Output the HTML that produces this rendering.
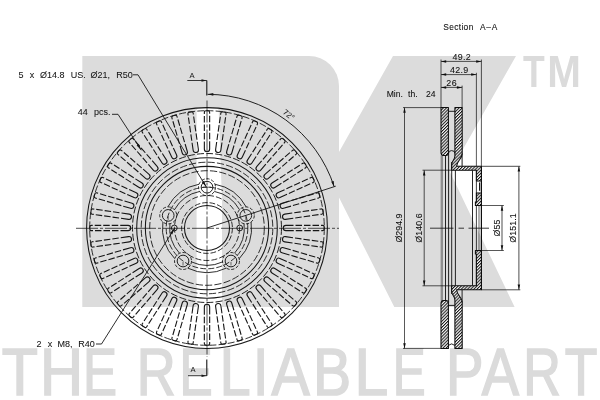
<!DOCTYPE html>
<html><head><meta charset="utf-8"><title>Brake disc drawing</title>
<style>
html,body{margin:0;padding:0;background:#fff;}
body{width:600px;height:400px;overflow:hidden;position:relative;font-family:"Liberation Sans",sans-serif;}
svg{position:absolute;left:0;top:0;display:block}
text{font-family:"Liberation Sans",sans-serif}
</style></head><body>
<svg width="600" height="400" viewBox="0 0 600 400">
<rect width="600" height="400" fill="#fff"/>
<defs><filter id="soft" x="0" y="0" width="600" height="400" filterUnits="userSpaceOnUse"><feGaussianBlur stdDeviation="0.35"/></filter></defs>
<g filter="url(#soft)">
<g id="wm">
<path d="M82.3 56 H309 A30 30 0 0 1 339 86 V306.9 H82.3 Z" fill="#dcdcdc"/>
<path d="M196.6 307.5 V110.5 Q196.6 108.3 199 108.3 H216.2 Q218.6 108.3 218.7 110.5 L222 200 V307.5 Z" fill="#fff"/>
<path d="M393 56 H516 L450 172 L514.6 307 H394.3 L339 197.5 V152 Z" fill="#dcdcdc"/>
<rect x="338" y="152" width="2" height="45.5" fill="#dcdcdc"/>
<text transform="translate(523 87.4) scale(0.786 1)" font-family="Liberation Sans, sans-serif" font-weight="bold" font-size="45.2" fill="#dbdbdb">T</text>
<text transform="translate(547.21 87.4) scale(0.894 1)" font-family="Liberation Sans, sans-serif" font-weight="bold" font-size="45.2" fill="#dbdbdb">M</text>
<text transform="translate(1.8 394.9) scale(0.893 1)" font-family="Liberation Sans, sans-serif" font-size="66.3" fill="#dbdbdb" stroke="#dbdbdb" stroke-width="1.6">T</text>
<text transform="translate(39.9 394.9) scale(0.9 1)" font-family="Liberation Sans, sans-serif" font-size="66.3" fill="#dbdbdb" stroke="#dbdbdb" stroke-width="1.6">H</text>
<text transform="translate(82.92 394.9) scale(0.769 1)" font-family="Liberation Sans, sans-serif" font-size="66.3" fill="#dbdbdb" stroke="#dbdbdb" stroke-width="1.6">E</text>
<text transform="translate(136.74 394.9) scale(0.815 1)" font-family="Liberation Sans, sans-serif" font-size="66.3" fill="#dbdbdb" stroke="#dbdbdb" stroke-width="1.6">R</text>
<text transform="translate(179.5 394.9) scale(0.75 1)" font-family="Liberation Sans, sans-serif" font-size="66.3" fill="#dbdbdb" stroke="#dbdbdb" stroke-width="1.6">E</text>
<text transform="translate(219.66 394.9) scale(0.836 1)" font-family="Liberation Sans, sans-serif" font-size="66.3" fill="#dbdbdb" stroke="#dbdbdb" stroke-width="1.6">L</text>
<text transform="translate(253.08 394.9) scale(0.833 1)" font-family="Liberation Sans, sans-serif" font-size="66.3" fill="#dbdbdb" stroke="#dbdbdb" stroke-width="1.6">I</text>
<text transform="translate(271.61 394.9) scale(0.864 1)" font-family="Liberation Sans, sans-serif" font-size="66.3" fill="#dbdbdb" stroke="#dbdbdb" stroke-width="1.6">A</text>
<text transform="translate(313.05 394.9) scale(0.862 1)" font-family="Liberation Sans, sans-serif" font-size="66.3" fill="#dbdbdb" stroke="#dbdbdb" stroke-width="1.6">B</text>
<text transform="translate(354.59 394.9) scale(0.914 1)" font-family="Liberation Sans, sans-serif" font-size="66.3" fill="#dbdbdb" stroke="#dbdbdb" stroke-width="1.6">L</text>
<text transform="translate(392.78 394.9) scale(0.744 1)" font-family="Liberation Sans, sans-serif" font-size="66.3" fill="#dbdbdb" stroke="#dbdbdb" stroke-width="1.6">E</text>
<text transform="translate(446.11 394.9) scale(0.849 1)" font-family="Liberation Sans, sans-serif" font-size="66.3" fill="#dbdbdb" stroke="#dbdbdb" stroke-width="1.6">P</text>
<text transform="translate(481.84 394.9) scale(0.842 1)" font-family="Liberation Sans, sans-serif" font-size="66.3" fill="#dbdbdb" stroke="#dbdbdb" stroke-width="1.6">A</text>
<text transform="translate(523.36 394.9) scale(0.786 1)" font-family="Liberation Sans, sans-serif" font-size="66.3" fill="#dbdbdb" stroke="#dbdbdb" stroke-width="1.6">R</text>
<text transform="translate(564.75 394.9) scale(0.806 1)" font-family="Liberation Sans, sans-serif" font-size="66.3" fill="#dbdbdb" stroke="#dbdbdb" stroke-width="1.6">T</text>
</g>
<g id="front" fill="none" stroke="#161616" stroke-linecap="butt">
<g transform="translate(207.0 228.0)">
<circle cx="0" cy="0" r="120.4" stroke-width="1.05"/>
<circle cx="0" cy="0" r="117.3" stroke-width="0.88" stroke-dasharray="7 2.2"/>
<circle cx="0" cy="0" r="74.5" stroke-width="0.95" stroke-dasharray="7 2.2"/>
<circle cx="0" cy="0" r="70.3" stroke-width="1.05"/>
<circle cx="0" cy="0" r="65.8" stroke-width="0.88" stroke-dasharray="7.2 2.2"/>
<circle cx="0" cy="0" r="61.65" stroke-width="1.05"/>
<circle cx="0" cy="0" r="57.3" stroke-width="0.88" stroke-dasharray="7.2 2.2"/>
<circle cx="0" cy="0" r="40.8" stroke-width="0.88" stroke-dasharray="6 2.1"/>
<circle cx="0" cy="0" r="32.5" stroke-width="0.88" stroke-dasharray="6 2.1"/>
<circle cx="0" cy="0" r="25.4" stroke-width="0.88" stroke-dasharray="5.6 2"/>
<circle cx="0" cy="0" r="22.5" stroke-width="1.05"/>
<path d="M7.37 -36.56 A37.3 37.3 0 0 1 32.5 -18.31" stroke-width="0.9"/>
<path d="M37.05 -4.29 A37.3 37.3 0 0 1 27.46 25.25" stroke-width="0.9"/>
<path d="M15.53 33.91 A37.3 37.3 0 0 1 -15.53 33.91" stroke-width="0.9"/>
<path d="M-27.46 25.25 A37.3 37.3 0 0 1 -37.05 -4.29" stroke-width="0.9"/>
<path d="M-32.5 -18.31 A37.3 37.3 0 0 1 -7.37 -36.56" stroke-width="0.9"/>
<path d="M7.96 -43.78 A44.5 44.5 0 0 1 39.18 -21.1" stroke-width="0.9"/>
<path d="M44.1 -5.96 A44.5 44.5 0 0 1 32.17 30.74" stroke-width="0.9"/>
<path d="M19.3 40.1 A44.5 44.5 0 0 1 -19.3 40.1" stroke-width="0.9"/>
<path d="M-32.17 30.74 A44.5 44.5 0 0 1 -44.1 -5.96" stroke-width="0.9"/>
<path d="M-39.18 -21.1 A44.5 44.5 0 0 1 -7.96 -43.78" stroke-width="0.9"/>
<circle cx="0" cy="-40.8" r="5.85" stroke-width="0.95"/>
<circle cx="0" cy="-40.8" r="8.5" stroke-width="0.88" stroke-dasharray="3.2 1.7"/>
<path d="M-4.2 -40.8 H4.2" stroke-width="0.7"/>
<circle cx="38.8" cy="-12.61" r="5.85" stroke-width="0.95"/>
<circle cx="38.8" cy="-12.61" r="8.5" stroke-width="0.88" stroke-dasharray="3.2 1.7"/>
<path d="M38.8 -11.61 V-8.11" stroke-width="0.6"/>
<circle cx="23.98" cy="33.01" r="5.85" stroke-width="0.95"/>
<circle cx="23.98" cy="33.01" r="8.5" stroke-width="0.88" stroke-dasharray="3.2 1.7"/>
<path d="M23.98 34.01 V37.51" stroke-width="0.6"/>
<circle cx="-23.98" cy="33.01" r="5.85" stroke-width="0.95"/>
<circle cx="-23.98" cy="33.01" r="8.5" stroke-width="0.88" stroke-dasharray="3.2 1.7"/>
<path d="M-23.98 34.01 V37.51" stroke-width="0.6"/>
<circle cx="-38.8" cy="-12.61" r="5.85" stroke-width="0.95"/>
<circle cx="-38.8" cy="-12.61" r="8.5" stroke-width="0.88" stroke-dasharray="3.2 1.7"/>
<path d="M-38.8 -11.61 V-8.11" stroke-width="0.6"/>
<circle cx="32.7" cy="-0" r="2.9" stroke-width="0.95"/>
<circle cx="-32.7" cy="-0" r="2.9" stroke-width="0.95"/>
<path d="M0 -117.2 H-1.05 Q-2.65 -117.2 -2.65 -115.6 V-78.95 A2.65 2.65 0 0 0 2.65 -78.95 V-115.6 Q2.65 -117.2 1.05 -117.2 Z" transform="rotate(-0)" stroke-width="1.1" stroke-dasharray="4.9 2 6.5 2 6.5 2 6.5 2 23.5 2 6.5 2 6.5 2 6.5 2 4.9"/>
<path d="M0 -117.2 H-1.05 Q-2.65 -117.2 -2.65 -115.6 V-78.95 A2.65 2.65 0 0 0 2.65 -78.95 V-115.6 Q2.65 -117.2 1.05 -117.2 Z" transform="rotate(-8.18)" stroke-width="1.1" stroke-dasharray="4.9 2 6.5 2 6.5 2 6.5 2 23.5 2 6.5 2 6.5 2 6.5 2 4.9"/>
<path d="M0 -117.2 H-1.05 Q-2.65 -117.2 -2.65 -115.6 V-78.95 A2.65 2.65 0 0 0 2.65 -78.95 V-115.6 Q2.65 -117.2 1.05 -117.2 Z" transform="rotate(-16.36)" stroke-width="1.1" stroke-dasharray="4.9 2 6.5 2 6.5 2 6.5 2 23.5 2 6.5 2 6.5 2 6.5 2 4.9"/>
<path d="M0 -117.2 H-1.05 Q-2.65 -117.2 -2.65 -115.6 V-78.95 A2.65 2.65 0 0 0 2.65 -78.95 V-115.6 Q2.65 -117.2 1.05 -117.2 Z" transform="rotate(-24.55)" stroke-width="1.1" stroke-dasharray="4.9 2 6.5 2 6.5 2 6.5 2 23.5 2 6.5 2 6.5 2 6.5 2 4.9"/>
<path d="M0 -117.2 H-1.05 Q-2.65 -117.2 -2.65 -115.6 V-78.95 A2.65 2.65 0 0 0 2.65 -78.95 V-115.6 Q2.65 -117.2 1.05 -117.2 Z" transform="rotate(-32.73)" stroke-width="1.1" stroke-dasharray="4.9 2 6.5 2 6.5 2 6.5 2 23.5 2 6.5 2 6.5 2 6.5 2 4.9"/>
<path d="M0 -117.2 H-1.05 Q-2.65 -117.2 -2.65 -115.6 V-78.95 A2.65 2.65 0 0 0 2.65 -78.95 V-115.6 Q2.65 -117.2 1.05 -117.2 Z" transform="rotate(-40.91)" stroke-width="1.1" stroke-dasharray="4.9 2 6.5 2 6.5 2 6.5 2 23.5 2 6.5 2 6.5 2 6.5 2 4.9"/>
<path d="M0 -117.2 H-1.05 Q-2.65 -117.2 -2.65 -115.6 V-78.95 A2.65 2.65 0 0 0 2.65 -78.95 V-115.6 Q2.65 -117.2 1.05 -117.2 Z" transform="rotate(-49.09)" stroke-width="1.1" stroke-dasharray="4.9 2 6.5 2 6.5 2 6.5 2 23.5 2 6.5 2 6.5 2 6.5 2 4.9"/>
<path d="M0 -117.2 H-1.05 Q-2.65 -117.2 -2.65 -115.6 V-78.95 A2.65 2.65 0 0 0 2.65 -78.95 V-115.6 Q2.65 -117.2 1.05 -117.2 Z" transform="rotate(-57.27)" stroke-width="1.1" stroke-dasharray="4.9 2 6.5 2 6.5 2 6.5 2 23.5 2 6.5 2 6.5 2 6.5 2 4.9"/>
<path d="M0 -117.2 H-1.05 Q-2.65 -117.2 -2.65 -115.6 V-78.95 A2.65 2.65 0 0 0 2.65 -78.95 V-115.6 Q2.65 -117.2 1.05 -117.2 Z" transform="rotate(-65.45)" stroke-width="1.1" stroke-dasharray="4.9 2 6.5 2 6.5 2 6.5 2 23.5 2 6.5 2 6.5 2 6.5 2 4.9"/>
<path d="M0 -117.2 H-1.05 Q-2.65 -117.2 -2.65 -115.6 V-78.95 A2.65 2.65 0 0 0 2.65 -78.95 V-115.6 Q2.65 -117.2 1.05 -117.2 Z" transform="rotate(-73.64)" stroke-width="1.1" stroke-dasharray="4.9 2 6.5 2 6.5 2 6.5 2 23.5 2 6.5 2 6.5 2 6.5 2 4.9"/>
<path d="M0 -117.2 H-1.05 Q-2.65 -117.2 -2.65 -115.6 V-78.95 A2.65 2.65 0 0 0 2.65 -78.95 V-115.6 Q2.65 -117.2 1.05 -117.2 Z" transform="rotate(-81.82)" stroke-width="1.1" stroke-dasharray="4.9 2 6.5 2 6.5 2 6.5 2 23.5 2 6.5 2 6.5 2 6.5 2 4.9"/>
<path d="M0 -117.2 H-1.05 Q-2.65 -117.2 -2.65 -115.6 V-78.95 A2.65 2.65 0 0 0 2.65 -78.95 V-115.6 Q2.65 -117.2 1.05 -117.2 Z" transform="rotate(-90)" stroke-width="1.1" stroke-dasharray="4.9 2 6.5 2 6.5 2 6.5 2 23.5 2 6.5 2 6.5 2 6.5 2 4.9"/>
<path d="M0 -117.2 H-1.05 Q-2.65 -117.2 -2.65 -115.6 V-78.95 A2.65 2.65 0 0 0 2.65 -78.95 V-115.6 Q2.65 -117.2 1.05 -117.2 Z" transform="rotate(-98.18)" stroke-width="1.1" stroke-dasharray="4.9 2 6.5 2 6.5 2 6.5 2 23.5 2 6.5 2 6.5 2 6.5 2 4.9"/>
<path d="M0 -117.2 H-1.05 Q-2.65 -117.2 -2.65 -115.6 V-78.95 A2.65 2.65 0 0 0 2.65 -78.95 V-115.6 Q2.65 -117.2 1.05 -117.2 Z" transform="rotate(-106.36)" stroke-width="1.1" stroke-dasharray="4.9 2 6.5 2 6.5 2 6.5 2 23.5 2 6.5 2 6.5 2 6.5 2 4.9"/>
<path d="M0 -117.2 H-1.05 Q-2.65 -117.2 -2.65 -115.6 V-78.95 A2.65 2.65 0 0 0 2.65 -78.95 V-115.6 Q2.65 -117.2 1.05 -117.2 Z" transform="rotate(-114.55)" stroke-width="1.1" stroke-dasharray="4.9 2 6.5 2 6.5 2 6.5 2 23.5 2 6.5 2 6.5 2 6.5 2 4.9"/>
<path d="M0 -117.2 H-1.05 Q-2.65 -117.2 -2.65 -115.6 V-78.95 A2.65 2.65 0 0 0 2.65 -78.95 V-115.6 Q2.65 -117.2 1.05 -117.2 Z" transform="rotate(-122.73)" stroke-width="1.1" stroke-dasharray="4.9 2 6.5 2 6.5 2 6.5 2 23.5 2 6.5 2 6.5 2 6.5 2 4.9"/>
<path d="M0 -117.2 H-1.05 Q-2.65 -117.2 -2.65 -115.6 V-78.95 A2.65 2.65 0 0 0 2.65 -78.95 V-115.6 Q2.65 -117.2 1.05 -117.2 Z" transform="rotate(-130.91)" stroke-width="1.1" stroke-dasharray="4.9 2 6.5 2 6.5 2 6.5 2 23.5 2 6.5 2 6.5 2 6.5 2 4.9"/>
<path d="M0 -117.2 H-1.05 Q-2.65 -117.2 -2.65 -115.6 V-78.95 A2.65 2.65 0 0 0 2.65 -78.95 V-115.6 Q2.65 -117.2 1.05 -117.2 Z" transform="rotate(-139.09)" stroke-width="1.1" stroke-dasharray="4.9 2 6.5 2 6.5 2 6.5 2 23.5 2 6.5 2 6.5 2 6.5 2 4.9"/>
<path d="M0 -117.2 H-1.05 Q-2.65 -117.2 -2.65 -115.6 V-78.95 A2.65 2.65 0 0 0 2.65 -78.95 V-115.6 Q2.65 -117.2 1.05 -117.2 Z" transform="rotate(-147.27)" stroke-width="1.1" stroke-dasharray="4.9 2 6.5 2 6.5 2 6.5 2 23.5 2 6.5 2 6.5 2 6.5 2 4.9"/>
<path d="M0 -117.2 H-1.05 Q-2.65 -117.2 -2.65 -115.6 V-78.95 A2.65 2.65 0 0 0 2.65 -78.95 V-115.6 Q2.65 -117.2 1.05 -117.2 Z" transform="rotate(-155.45)" stroke-width="1.1" stroke-dasharray="4.9 2 6.5 2 6.5 2 6.5 2 23.5 2 6.5 2 6.5 2 6.5 2 4.9"/>
<path d="M0 -117.2 H-1.05 Q-2.65 -117.2 -2.65 -115.6 V-78.95 A2.65 2.65 0 0 0 2.65 -78.95 V-115.6 Q2.65 -117.2 1.05 -117.2 Z" transform="rotate(-163.64)" stroke-width="1.1" stroke-dasharray="4.9 2 6.5 2 6.5 2 6.5 2 23.5 2 6.5 2 6.5 2 6.5 2 4.9"/>
<path d="M0 -117.2 H-1.05 Q-2.65 -117.2 -2.65 -115.6 V-78.95 A2.65 2.65 0 0 0 2.65 -78.95 V-115.6 Q2.65 -117.2 1.05 -117.2 Z" transform="rotate(-171.82)" stroke-width="1.1" stroke-dasharray="4.9 2 6.5 2 6.5 2 6.5 2 23.5 2 6.5 2 6.5 2 6.5 2 4.9"/>
<path d="M0 -117.2 H-1.05 Q-2.65 -117.2 -2.65 -115.6 V-78.95 A2.65 2.65 0 0 0 2.65 -78.95 V-115.6 Q2.65 -117.2 1.05 -117.2 Z" transform="rotate(-180)" stroke-width="1.1" stroke-dasharray="4.9 2 6.5 2 6.5 2 6.5 2 23.5 2 6.5 2 6.5 2 6.5 2 4.9"/>
<path d="M0 -117.2 H-1.05 Q-2.65 -117.2 -2.65 -115.6 V-78.95 A2.65 2.65 0 0 0 2.65 -78.95 V-115.6 Q2.65 -117.2 1.05 -117.2 Z" transform="rotate(-188.18)" stroke-width="1.1" stroke-dasharray="4.9 2 6.5 2 6.5 2 6.5 2 23.5 2 6.5 2 6.5 2 6.5 2 4.9"/>
<path d="M0 -117.2 H-1.05 Q-2.65 -117.2 -2.65 -115.6 V-78.95 A2.65 2.65 0 0 0 2.65 -78.95 V-115.6 Q2.65 -117.2 1.05 -117.2 Z" transform="rotate(-196.36)" stroke-width="1.1" stroke-dasharray="4.9 2 6.5 2 6.5 2 6.5 2 23.5 2 6.5 2 6.5 2 6.5 2 4.9"/>
<path d="M0 -117.2 H-1.05 Q-2.65 -117.2 -2.65 -115.6 V-78.95 A2.65 2.65 0 0 0 2.65 -78.95 V-115.6 Q2.65 -117.2 1.05 -117.2 Z" transform="rotate(-204.55)" stroke-width="1.1" stroke-dasharray="4.9 2 6.5 2 6.5 2 6.5 2 23.5 2 6.5 2 6.5 2 6.5 2 4.9"/>
<path d="M0 -117.2 H-1.05 Q-2.65 -117.2 -2.65 -115.6 V-78.95 A2.65 2.65 0 0 0 2.65 -78.95 V-115.6 Q2.65 -117.2 1.05 -117.2 Z" transform="rotate(-212.73)" stroke-width="1.1" stroke-dasharray="4.9 2 6.5 2 6.5 2 6.5 2 23.5 2 6.5 2 6.5 2 6.5 2 4.9"/>
<path d="M0 -117.2 H-1.05 Q-2.65 -117.2 -2.65 -115.6 V-78.95 A2.65 2.65 0 0 0 2.65 -78.95 V-115.6 Q2.65 -117.2 1.05 -117.2 Z" transform="rotate(-220.91)" stroke-width="1.1" stroke-dasharray="4.9 2 6.5 2 6.5 2 6.5 2 23.5 2 6.5 2 6.5 2 6.5 2 4.9"/>
<path d="M0 -117.2 H-1.05 Q-2.65 -117.2 -2.65 -115.6 V-78.95 A2.65 2.65 0 0 0 2.65 -78.95 V-115.6 Q2.65 -117.2 1.05 -117.2 Z" transform="rotate(-229.09)" stroke-width="1.1" stroke-dasharray="4.9 2 6.5 2 6.5 2 6.5 2 23.5 2 6.5 2 6.5 2 6.5 2 4.9"/>
<path d="M0 -117.2 H-1.05 Q-2.65 -117.2 -2.65 -115.6 V-78.95 A2.65 2.65 0 0 0 2.65 -78.95 V-115.6 Q2.65 -117.2 1.05 -117.2 Z" transform="rotate(-237.27)" stroke-width="1.1" stroke-dasharray="4.9 2 6.5 2 6.5 2 6.5 2 23.5 2 6.5 2 6.5 2 6.5 2 4.9"/>
<path d="M0 -117.2 H-1.05 Q-2.65 -117.2 -2.65 -115.6 V-78.95 A2.65 2.65 0 0 0 2.65 -78.95 V-115.6 Q2.65 -117.2 1.05 -117.2 Z" transform="rotate(-245.45)" stroke-width="1.1" stroke-dasharray="4.9 2 6.5 2 6.5 2 6.5 2 23.5 2 6.5 2 6.5 2 6.5 2 4.9"/>
<path d="M0 -117.2 H-1.05 Q-2.65 -117.2 -2.65 -115.6 V-78.95 A2.65 2.65 0 0 0 2.65 -78.95 V-115.6 Q2.65 -117.2 1.05 -117.2 Z" transform="rotate(-253.64)" stroke-width="1.1" stroke-dasharray="4.9 2 6.5 2 6.5 2 6.5 2 23.5 2 6.5 2 6.5 2 6.5 2 4.9"/>
<path d="M0 -117.2 H-1.05 Q-2.65 -117.2 -2.65 -115.6 V-78.95 A2.65 2.65 0 0 0 2.65 -78.95 V-115.6 Q2.65 -117.2 1.05 -117.2 Z" transform="rotate(-261.82)" stroke-width="1.1" stroke-dasharray="4.9 2 6.5 2 6.5 2 6.5 2 23.5 2 6.5 2 6.5 2 6.5 2 4.9"/>
<path d="M0 -117.2 H-1.05 Q-2.65 -117.2 -2.65 -115.6 V-78.95 A2.65 2.65 0 0 0 2.65 -78.95 V-115.6 Q2.65 -117.2 1.05 -117.2 Z" transform="rotate(-270)" stroke-width="1.1" stroke-dasharray="4.9 2 6.5 2 6.5 2 6.5 2 23.5 2 6.5 2 6.5 2 6.5 2 4.9"/>
<path d="M0 -117.2 H-1.05 Q-2.65 -117.2 -2.65 -115.6 V-78.95 A2.65 2.65 0 0 0 2.65 -78.95 V-115.6 Q2.65 -117.2 1.05 -117.2 Z" transform="rotate(-278.18)" stroke-width="1.1" stroke-dasharray="4.9 2 6.5 2 6.5 2 6.5 2 23.5 2 6.5 2 6.5 2 6.5 2 4.9"/>
<path d="M0 -117.2 H-1.05 Q-2.65 -117.2 -2.65 -115.6 V-78.95 A2.65 2.65 0 0 0 2.65 -78.95 V-115.6 Q2.65 -117.2 1.05 -117.2 Z" transform="rotate(-286.36)" stroke-width="1.1" stroke-dasharray="4.9 2 6.5 2 6.5 2 6.5 2 23.5 2 6.5 2 6.5 2 6.5 2 4.9"/>
<path d="M0 -117.2 H-1.05 Q-2.65 -117.2 -2.65 -115.6 V-78.95 A2.65 2.65 0 0 0 2.65 -78.95 V-115.6 Q2.65 -117.2 1.05 -117.2 Z" transform="rotate(-294.55)" stroke-width="1.1" stroke-dasharray="4.9 2 6.5 2 6.5 2 6.5 2 23.5 2 6.5 2 6.5 2 6.5 2 4.9"/>
<path d="M0 -117.2 H-1.05 Q-2.65 -117.2 -2.65 -115.6 V-78.95 A2.65 2.65 0 0 0 2.65 -78.95 V-115.6 Q2.65 -117.2 1.05 -117.2 Z" transform="rotate(-302.73)" stroke-width="1.1" stroke-dasharray="4.9 2 6.5 2 6.5 2 6.5 2 23.5 2 6.5 2 6.5 2 6.5 2 4.9"/>
<path d="M0 -117.2 H-1.05 Q-2.65 -117.2 -2.65 -115.6 V-78.95 A2.65 2.65 0 0 0 2.65 -78.95 V-115.6 Q2.65 -117.2 1.05 -117.2 Z" transform="rotate(-310.91)" stroke-width="1.1" stroke-dasharray="4.9 2 6.5 2 6.5 2 6.5 2 23.5 2 6.5 2 6.5 2 6.5 2 4.9"/>
<path d="M0 -117.2 H-1.05 Q-2.65 -117.2 -2.65 -115.6 V-78.95 A2.65 2.65 0 0 0 2.65 -78.95 V-115.6 Q2.65 -117.2 1.05 -117.2 Z" transform="rotate(-319.09)" stroke-width="1.1" stroke-dasharray="4.9 2 6.5 2 6.5 2 6.5 2 23.5 2 6.5 2 6.5 2 6.5 2 4.9"/>
<path d="M0 -117.2 H-1.05 Q-2.65 -117.2 -2.65 -115.6 V-78.95 A2.65 2.65 0 0 0 2.65 -78.95 V-115.6 Q2.65 -117.2 1.05 -117.2 Z" transform="rotate(-327.27)" stroke-width="1.1" stroke-dasharray="4.9 2 6.5 2 6.5 2 6.5 2 23.5 2 6.5 2 6.5 2 6.5 2 4.9"/>
<path d="M0 -117.2 H-1.05 Q-2.65 -117.2 -2.65 -115.6 V-78.95 A2.65 2.65 0 0 0 2.65 -78.95 V-115.6 Q2.65 -117.2 1.05 -117.2 Z" transform="rotate(-335.45)" stroke-width="1.1" stroke-dasharray="4.9 2 6.5 2 6.5 2 6.5 2 23.5 2 6.5 2 6.5 2 6.5 2 4.9"/>
<path d="M0 -117.2 H-1.05 Q-2.65 -117.2 -2.65 -115.6 V-78.95 A2.65 2.65 0 0 0 2.65 -78.95 V-115.6 Q2.65 -117.2 1.05 -117.2 Z" transform="rotate(-343.64)" stroke-width="1.1" stroke-dasharray="4.9 2 6.5 2 6.5 2 6.5 2 23.5 2 6.5 2 6.5 2 6.5 2 4.9"/>
<path d="M0 -117.2 H-1.05 Q-2.65 -117.2 -2.65 -115.6 V-78.95 A2.65 2.65 0 0 0 2.65 -78.95 V-115.6 Q2.65 -117.2 1.05 -117.2 Z" transform="rotate(-351.82)" stroke-width="1.1" stroke-dasharray="4.9 2 6.5 2 6.5 2 6.5 2 23.5 2 6.5 2 6.5 2 6.5 2 4.9"/>
</g>
<path d="M76 228.3 H339" stroke-width="0.75" stroke-dasharray="22 2 3 2"/>
<path d="M207.0 100.5 V357" stroke-width="0.75" stroke-dasharray="22 2 3 2"/>
<path d="M206.8 80.5 V95.5" stroke-width="1.1"/>
<path d="M187.3 80.5 H206.8" stroke-width="0.85"/>
<path d="M206.5 80.5 l-5 -1.3 v2.6 z" fill="#161616" stroke="none"/>
<path d="M206.8 359.5 V376" stroke-width="1.1"/>
<path d="M188 375.7 H206.8" stroke-width="0.85"/>
<path d="M206.5 375.7 l-5 -1.3 v2.6 z" fill="#161616" stroke="none"/>
<path d="M207.5 94.3 A133.7 133.7 0 0 1 334.16 186.68" stroke-width="0.95"/>
<path d="M207.8 94.3 l5.5 -1.3 v2.7 z" fill="#161616" stroke="none"/>
<path d="M334.16 186.68 L331.17 181.87 L333.74 181.04 Z" fill="#161616" stroke="none"/>
<path d="M207.0 228.0 L335.76 186.18" stroke-width="0.9"/>
<path d="M133 74.8 H138 L206.3 187" stroke-width="0.9"/>
<path d="M112 114.3 H118 L141.3 150.2" stroke-width="0.9"/>
<path d="M96 344 H101.5 L174.6 228.3" stroke-width="0.9"/>
</g>
<path d="M206.3 187 L201.77 182.15 L204.07 180.75 Z" fill="#161616"/>
<path d="M141.3 150.2 L136.63 145.48 L138.89 144.01 Z" fill="#161616"/>
<path d="M174.6 228.3 L172.27 234.52 L169.99 233.07 Z" fill="#161616"/>
<text y="77.7" font-family="Liberation Sans, sans-serif" font-size="9.0" fill="#161616" stroke="#161616" stroke-width="0.07"><tspan x="18.6">5</tspan><tspan x="29.8">x</tspan><tspan x="39.9">Ø14.8</tspan><tspan x="70.7">US.</tspan><tspan x="90.5">Ø21,</tspan><tspan x="116.2">R50</tspan></text>
<text y="115.3" font-family="Liberation Sans, sans-serif" font-size="9.0" fill="#161616" stroke="#161616" stroke-width="0.07"><tspan x="77.7">44</tspan><tspan x="94">pcs.</tspan></text>
<text y="346.6" font-family="Liberation Sans, sans-serif" font-size="9.0" fill="#161616" stroke="#161616" stroke-width="0.07"><tspan x="36.6">2</tspan><tspan x="47.8">x</tspan><tspan x="57.4">M8,</tspan><tspan x="78.2">R40</tspan></text>
<text x="189.4" y="77.6" font-family="Liberation Sans, sans-serif" font-size="7.6" fill="#161616">A</text>
<text x="190.6" y="371.9" font-family="Liberation Sans, sans-serif" font-size="7.6" fill="#161616">A</text>
<text font-family="Liberation Sans, sans-serif" font-size="8" fill="#161616" transform="translate(282.3 113.3) rotate(37)">72°</text>
<defs><pattern id="h" width="2.2" height="2.2" patternUnits="userSpaceOnUse" patternTransform="rotate(45)"><rect width="2.2" height="2.2" fill="#fff" fill-opacity="0.9"/><line x1="0.5" y1="-1" x2="0.5" y2="4" stroke="#141414" stroke-width="1.05"/></pattern></defs>
<g id="section">
<path d="M441.8 155.3 L441.8 300.7" stroke="#8e8e8e" stroke-width="2.4" fill="none"/>
<path d="M445.5 155.3 L445.5 300.7" stroke="#0c0c0c" stroke-width="0.9" fill="none"/>
<path d="M448.6 153 L448.6 303" stroke="#0c0c0c" stroke-width="0.9" fill="none"/>
<path d="M451.7 162 L451.7 294" stroke="#0c0c0c" stroke-width="0.9" fill="none"/>
<path d="M455.4 170.2 L455.4 285.8" stroke="#0c0c0c" stroke-width="0.9" fill="none"/>
<path d="M472.5 170.2 L472.5 285.8" stroke="#0c0c0c" stroke-width="0.9" fill="none"/>
<path d="M476.4 170.2 L476.4 285.8" stroke="#0c0c0c" stroke-width="0.8" fill="none"/>
<path d="M479 205.5 L479 250.5" stroke="#0c0c0c" stroke-width="0.6" fill="none"/>
<path d="M481.4 166.3 L481.4 289.7" stroke="#0c0c0c" stroke-width="1.2" fill="none"/>
<path d="M441 107.5 H448.4 V152.6 Q448.4 155.5 446 155.5 H443.3 Q441 155.5 441 152.6 Z" fill="url(#h)" stroke="#0c0c0c" stroke-width="1.05" stroke-linejoin="round"/>
<path d="M454.9 107.5 H462.2 V154 C462.2 158.5 457 160.5 456.6 166.3 H481.4 V181 H476.4 V170.2 H451.7 V164.5 C451.7 161 454.9 160 454.9 156 Z" fill="url(#h)" stroke="#0c0c0c" stroke-width="1.05" stroke-linejoin="round"/>
<path d="M476.4 193 L481.4 193 L481.4 205.5 L475.4 205.5 L475.4 202 L476.4 202 Z" fill="url(#h)" stroke="#0c0c0c" stroke-width="1.05" stroke-linejoin="miter"/>
<path d="M448.3 111.3 L454.9 111.3" stroke="#0c0c0c" stroke-width="0.9" fill="none"/>
<path d="M448.5 153.5 Q448.5 150.6 451.6 150.6 Q454.9 150.6 454.9 153.5" stroke="#0c0c0c" stroke-width="0.9" fill="none"/>
<path d="M462.1 153.5 L462.1 166.3" stroke="#0c0c0c" stroke-width="0.9" fill="none"/>
<path d="M479.6 182.6 L479.6 190.8" stroke="#0c0c0c" stroke-width="1.1" fill="none"/>
<path d="M441 348.5 H448.4 V303.4 Q448.4 300.5 446 300.5 H443.3 Q441 300.5 441 303.4 Z" fill="url(#h)" stroke="#0c0c0c" stroke-width="1.05" stroke-linejoin="round"/>
<path d="M454.9 348.5 H462.2 V302 C462.2 297.5 457 295.5 456.6 289.7 H481.4 V250.5 H475.4 V254 H476.4 V285.8 H451.7 V291.5 C451.7 295 454.9 296 454.9 300 Z" fill="url(#h)" stroke="#0c0c0c" stroke-width="1.05" stroke-linejoin="round"/>
<path d="M448.3 345.4 Q451.6 342.4 454.9 345.4" stroke="#0c0c0c" stroke-width="0.9" fill="none"/>
<path d="M448.5 305.4 L454.9 305.4" stroke="#0c0c0c" stroke-width="0.9" fill="none"/>
<path d="M462.1 302.5 L462.1 289.7" stroke="#0c0c0c" stroke-width="0.9" fill="none"/>
<path d="M430 228.2 L453.5 228.2" stroke="#0c0c0c" stroke-width="0.8" fill="none"/>
<path d="M458.5 228.2 L464 228.2" stroke="#0c0c0c" stroke-width="0.8" fill="none"/>
<path d="M468.5 228.2 L489 228.2" stroke="#0c0c0c" stroke-width="0.8" fill="none"/>
<path d="M441 59.5 L441 107.5" stroke="#0c0c0c" stroke-width="0.7" fill="none"/>
<path d="M481.4 59.5 L481.4 166.3" stroke="#0c0c0c" stroke-width="0.7" fill="none"/>
<path d="M476.4 72.8 L476.4 166.3" stroke="#0c0c0c" stroke-width="0.7" fill="none"/>
<path d="M462.1 85.6 L462.1 107.5" stroke="#0c0c0c" stroke-width="0.7" fill="none"/>
<path d="M441 61.4 L481.4 61.4" stroke="#0c0c0c" stroke-width="0.7" fill="none"/>
<path d="M441 61.4 L446.2 60.15 L446.2 62.65 Z" fill="#0c0c0c"/>
<path d="M481.4 61.4 L476.2 62.65 L476.2 60.15 Z" fill="#0c0c0c"/>
<path d="M441 74.6 L476.4 74.6" stroke="#0c0c0c" stroke-width="0.7" fill="none"/>
<path d="M441 74.6 L446.2 73.35 L446.2 75.85 Z" fill="#0c0c0c"/>
<path d="M476.4 74.6 L471.2 75.85 L471.2 73.35 Z" fill="#0c0c0c"/>
<path d="M441 87.4 L462.1 87.4" stroke="#0c0c0c" stroke-width="0.7" fill="none"/>
<path d="M441 87.4 L446.2 86.15 L446.2 88.65 Z" fill="#0c0c0c"/>
<path d="M462.1 87.4 L456.9 88.65 L456.9 86.15 Z" fill="#0c0c0c"/>
<path d="M403 107.6 L441 107.6" stroke="#0c0c0c" stroke-width="0.7" fill="none"/>
<path d="M403 348.4 L441 348.4" stroke="#0c0c0c" stroke-width="0.7" fill="none"/>
<path d="M404.5 107.6 L404.5 348.4" stroke="#0c0c0c" stroke-width="0.7" fill="none"/>
<path d="M404.5 107.6 L405.75 112.8 L403.25 112.8 Z" fill="#0c0c0c"/>
<path d="M404.5 348.4 L403.25 343.2 L405.75 343.2 Z" fill="#0c0c0c"/>
<path d="M422.5 170.2 L452 170.2" stroke="#0c0c0c" stroke-width="0.7" fill="none"/>
<path d="M422.5 285.8 L452 285.8" stroke="#0c0c0c" stroke-width="0.7" fill="none"/>
<path d="M424.2 170.2 L424.2 285.8" stroke="#0c0c0c" stroke-width="0.7" fill="none"/>
<path d="M424.2 170.2 L425.45 175.4 L422.95 175.4 Z" fill="#0c0c0c"/>
<path d="M424.2 285.8 L422.95 280.6 L425.45 280.6 Z" fill="#0c0c0c"/>
<path d="M481.4 205.5 L503.8 205.5" stroke="#0c0c0c" stroke-width="0.7" fill="none"/>
<path d="M481.4 250.5 L503.8 250.5" stroke="#0c0c0c" stroke-width="0.7" fill="none"/>
<path d="M502 205.5 L502 250.5" stroke="#0c0c0c" stroke-width="0.7" fill="none"/>
<path d="M502 205.5 L503.25 210.7 L500.75 210.7 Z" fill="#0c0c0c"/>
<path d="M502 250.5 L500.75 245.3 L503.25 245.3 Z" fill="#0c0c0c"/>
<path d="M481.4 166.3 L520.3 166.3" stroke="#0c0c0c" stroke-width="0.7" fill="none"/>
<path d="M481.4 289.8 L520.3 289.8" stroke="#0c0c0c" stroke-width="0.7" fill="none"/>
<path d="M518.9 166.3 L518.9 289.7" stroke="#0c0c0c" stroke-width="0.7" fill="none"/>
<path d="M518.9 166.3 L520.15 171.5 L517.65 171.5 Z" fill="#0c0c0c"/>
<path d="M518.9 289.7 L517.65 284.5 L520.15 284.5 Z" fill="#0c0c0c"/>
</g>
<text x="443.2" y="30" font-family="Liberation Sans, sans-serif" font-size="8.4" fill="#0c0c0c" stroke="#0c0c0c" stroke-width="0.07" textLength="30.1" lengthAdjust="spacing" xml:space="preserve">Section</text>
<text x="480" y="30" font-family="Liberation Sans, sans-serif" font-size="8.4" fill="#0c0c0c" stroke="#0c0c0c" stroke-width="0.07" textLength="17.3" lengthAdjust="spacing" xml:space="preserve">A–A</text>
<text x="452.4" y="60" font-family="Liberation Sans, sans-serif" font-size="8.9" fill="#0c0c0c" stroke="#0c0c0c" stroke-width="0.07" textLength="18.4" lengthAdjust="spacing" xml:space="preserve">49.2</text>
<text x="449.9" y="72.9" font-family="Liberation Sans, sans-serif" font-size="8.9" fill="#0c0c0c" stroke="#0c0c0c" stroke-width="0.07" textLength="18.2" lengthAdjust="spacing" xml:space="preserve">42.9</text>
<text x="446.2" y="85.9" font-family="Liberation Sans, sans-serif" font-size="8.9" fill="#0c0c0c" stroke="#0c0c0c" stroke-width="0.07" textLength="10.6" lengthAdjust="spacing" xml:space="preserve">26</text>
<text x="386.7" y="96.5" font-family="Liberation Sans, sans-serif" font-size="8.6" fill="#0c0c0c" stroke="#0c0c0c" stroke-width="0.07" xml:space="preserve">Min.</text>
<text x="408" y="96.5" font-family="Liberation Sans, sans-serif" font-size="8.6" fill="#0c0c0c" stroke="#0c0c0c" stroke-width="0.07" xml:space="preserve">th.</text>
<text x="425.9" y="96.5" font-family="Liberation Sans, sans-serif" font-size="8.6" fill="#0c0c0c" stroke="#0c0c0c" stroke-width="0.07" xml:space="preserve">24</text>
<text font-family="Liberation Sans, sans-serif" font-size="8.8" fill="#0c0c0c" stroke="#0c0c0c" stroke-width="0.07" textLength="29" lengthAdjust="spacing" text-anchor="middle" transform="translate(402.4 228) rotate(-90)" xml:space="preserve">Ø294.9</text>
<text font-family="Liberation Sans, sans-serif" font-size="8.8" fill="#0c0c0c" stroke="#0c0c0c" stroke-width="0.07" textLength="29.5" lengthAdjust="spacing" text-anchor="middle" transform="translate(422.0 228) rotate(-90)" xml:space="preserve">Ø140.6</text>
<text font-family="Liberation Sans, sans-serif" font-size="8.8" fill="#0c0c0c" stroke="#0c0c0c" stroke-width="0.07" textLength="16.8" lengthAdjust="spacing" text-anchor="middle" transform="translate(499.9 228) rotate(-90)" xml:space="preserve">Ø55</text>
<text font-family="Liberation Sans, sans-serif" font-size="8.8" fill="#0c0c0c" stroke="#0c0c0c" stroke-width="0.07" textLength="29.5" lengthAdjust="spacing" text-anchor="middle" transform="translate(516.3 228) rotate(-90)" xml:space="preserve">Ø151.1</text>
</g>
</svg>
</body></html>
